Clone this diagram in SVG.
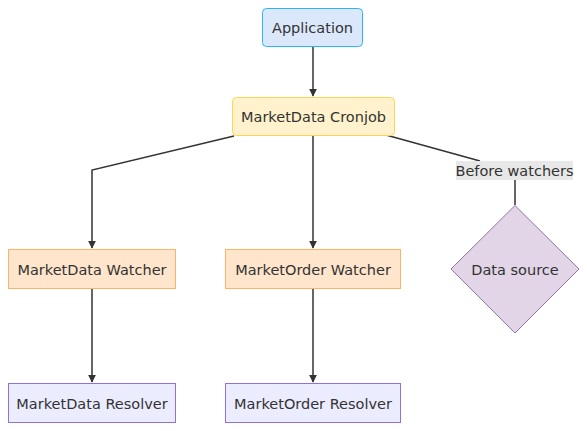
<svg xmlns="http://www.w3.org/2000/svg" width="587" height="431" viewBox="0 0 587 431">
<defs>
<marker id="arr" viewBox="0 0 10 10" refX="9" refY="5" markerWidth="8" markerHeight="8" markerUnits="userSpaceOnUse" orient="auto">
<path d="M0,0 L10,5 L0,10 z" fill="#333"/>
</marker>
<style>
text{font-family:"DejaVu Sans",Verdana,sans-serif;font-size:14.5px;fill:#333;text-anchor:middle;dominant-baseline:central}
.e{fill:none;stroke:#333;stroke-width:1.5}
</style>
</defs>
<rect width="587" height="431" fill="#fff"/>
<g id="connectors">
<path class="e" d="M313,47 L313,96" marker-end="url(#arr)"/>
<path class="e" d="M234,136 L92,170 L92,248" marker-end="url(#arr)"/>
<path class="e" d="M313,136 L313,248" marker-end="url(#arr)"/>
<path class="e" d="M386,135 L480,161"/>
<path class="e" d="M515,180 L515,205"/>
<path class="e" d="M92,289 L92,382" marker-end="url(#arr)"/>
<path class="e" d="M313,289 L313,382" marker-end="url(#arr)"/>
<g id="label-before">
<rect x="456" y="161" width="117" height="19" fill="#e8e8e8"/>
<text x="514.5" y="171">Before watchers</text>
</g>
</g>
<g id="app">
<rect x="262.5" y="8.5" width="100" height="38" rx="4" fill="#dbe8fb" stroke="#29b6f6"/>
<text x="312.5" y="27.5">Application</text>
</g>
<g id="cronjob">
<rect x="232.5" y="97.5" width="162" height="38" rx="4" fill="#fff2cc" stroke="#ffd54f"/>
<text x="313.5" y="116.5">MarketData Cronjob</text>
</g>
<g id="mdwatcher">
<rect x="8.5" y="249.5" width="167" height="39" fill="#ffe5cc" stroke="#ffb366"/>
<text x="92" y="269.5">MarketData Watcher</text>
</g>
<g id="mowatcher">
<rect x="225.5" y="249.5" width="175" height="39" fill="#ffe5cc" stroke="#ffb366"/>
<text x="313" y="269.5">MarketOrder Watcher</text>
</g>
<g id="datasource">
<polygon points="515,205.5 579,269 515,333 451,269" fill="#e1d5e7" stroke="#9673a6"/>
<text x="515" y="269.5">Data source</text>
</g>
<g id="mdresolver">
<rect x="8.5" y="383.5" width="167" height="39" fill="#ececff" stroke="#9370db"/>
<text x="92" y="403.5">MarketData Resolver</text>
</g>
<g id="moresolver">
<rect x="225.5" y="383.5" width="175" height="39" fill="#ececff" stroke="#9370db"/>
<text x="313" y="403.5">MarketOrder Resolver</text>
</g>
</svg>
